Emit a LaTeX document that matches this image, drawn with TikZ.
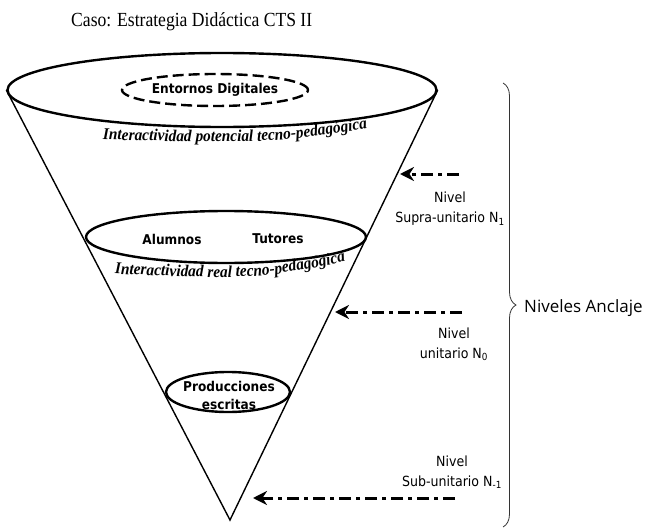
\documentclass[tikz,border=0pt]{standalone}
\usepackage{fontspec}
\setmainfont{Liberation Serif}
\newfontfamily\narrowserif[FakeStretch=0.88]{Liberation Serif}
\newfontfamily\italserif[FakeStretch=0.93]{Liberation Serif}
\newfontfamily\labfont{DejaVu Sans Condensed}
\newfontfamily\bigfont{Open Sans}
\usetikzlibrary{shapes.geometric,decorations.text,decorations.pathreplacing,arrows.meta}
\newcommand\itbfont{\italserif\fontsize{16.5}{19}\selectfont\bfseries\itshape}

\begin{document}
\begin{tikzpicture}[x=1pt,y=-1pt,
  rim/.style={ellipse,draw,line width=2.4pt,inner sep=0pt},
  tag/.style={font=\labfont\fontsize{13.5}{18}\selectfont\bfseries,align=center,inner sep=0pt},
  nivel/.style={font=\labfont\fontsize{14}{20}\selectfont,align=center,inner sep=0pt},
  flecha/.style={line width=3pt,dash pattern=on 12pt off 5pt on 4pt off 5pt,-{Stealth[length=14pt,width=14pt,inset=4.5pt]}}] %---- cone of levels
\useasboundingbox (0,0) rectangle (654,530); % --- page frame
\node[font=\narrowserif\fontsize{20}{22}\selectfont,anchor=west,inner sep=0pt] (caso) at (71,22) {Caso: Estrategia Didáctica CTS II};
\node[rim,minimum width=429pt,minimum height=74pt] (boca) at (222,90) {};
\coordinate (vertice) at (230,520);
\draw[line width=1.4pt] (boca.west) -- (vertice) -- (boca.east); % ---- cone sides
\node[rim,tag,dash pattern=on 11pt off 5pt,minimum width=186pt,minimum height=32pt] (entornos) at (215,90) {Entornos Digitales};
\path[decorate,decoration={text along path,text align=center,text={|\itbfont|Interactividad potencial tecno-pedagógica}}] (85,139) .. controls (265,144) .. (385,126);
\node[rim,minimum width=280pt,minimum height=52pt] (aula) at (226,237) {};
\node[tag] (alumnos) at (172,239) {Alumnos};
\node[tag] (tutores) at (278,239) {Tutores};
\path[decorate,decoration={text along path,text align=center,text={|\itbfont|Interactividad real tecno-pedagógica}}] (98,273) .. controls (255,280) .. (362,258);
\node[rim,minimum width=124pt,minimum height=40pt] (prod) at (228,392) {};
\node[tag] (escritas) at (229,395) {Producciones\\escritas};
% --- arrows and levels
\coordinate (c1) at (459,174); \coordinate (p1) at (400,174);
\coordinate (c0) at (462,312); \coordinate (p0) at (335,312);
\coordinate (cm) at (455,498); \coordinate (pm) at (253,498);
\draw[flecha] (c1) -- (p1);
\draw[flecha] (c0) -- (p0);
\draw[flecha] (cm) -- (pm);
\node[nivel] (supra) at (450,209) {Nivel\\Supra-unitario N\textsubscript{1}};
\node[nivel] (unitario) at (454,344) {Nivel\\unitario N\textsubscript{0}};
\node[nivel] (sub) at (452,472) {Nivel\\Sub-unitario N\textsubscript{-1}};
\coordinate (btop) at (503,83); \coordinate (bbot) at (503,527);
\draw[decorate,decoration={brace,amplitude=13pt},line width=0.8pt,black!80] (btop) -- (bbot);
\node[font=\bigfont\fontsize{17}{20}\selectfont,anchor=west,inner sep=0pt] (anclaje) at (524,308) {Niveles Anclaje};
\end{tikzpicture}
\end{document}
